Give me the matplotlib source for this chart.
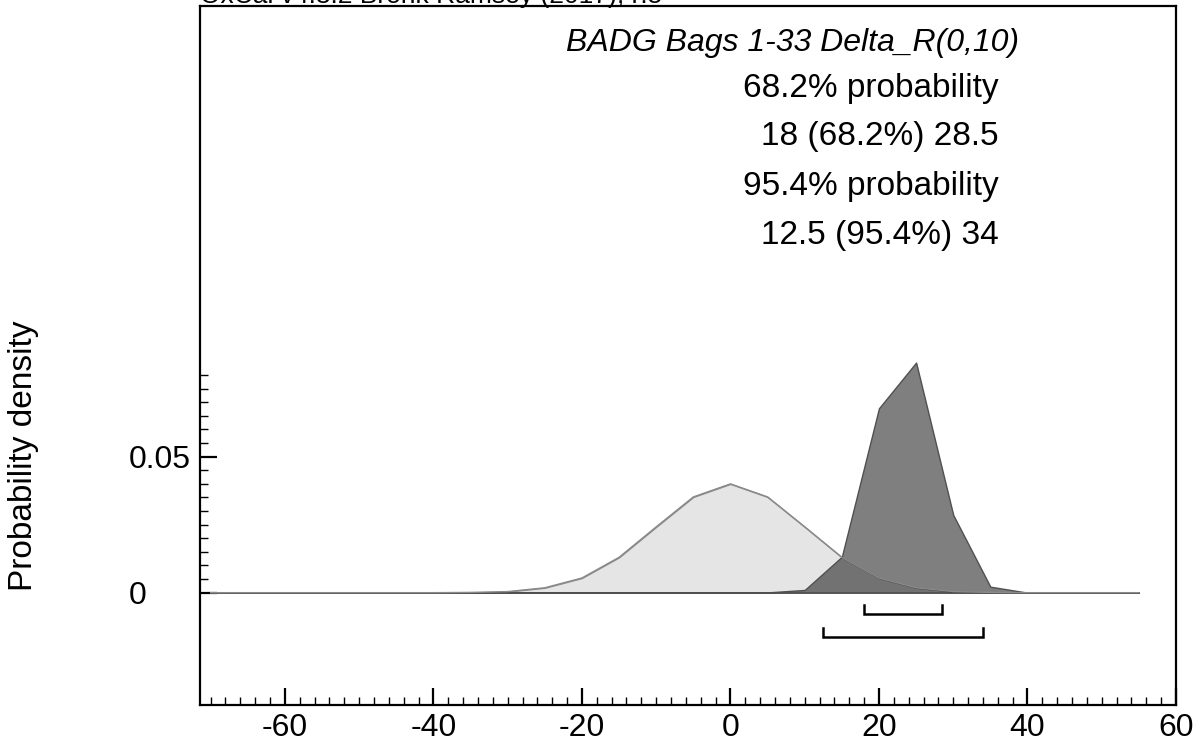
import matplotlib
matplotlib.use("Agg")
import matplotlib.pyplot as plt
from matplotlib.ticker import FixedLocator, MultipleLocator
import numpy as np

plt.rcParams['font.family'] = ['Liberation Sans', 'DejaVu Sans']

# Data
x_vals = [-70, -65, -60, -55, -50, -45, -40, -35, -30, -25, -20, -15, -10, -5, 0,
          5, 10, 15, 20, 25, 30, 35, 40, 45, 50, 55]
prior = [0.0, 0.0, 0.0, 0.0, 0.0, 0.0, 0.0, 0.0001, 0.0004, 0.0018, 0.0054, 0.0130,
         0.0242, 0.0352, 0.0400, 0.0352, 0.0242, 0.0130, 0.0054, 0.0018, 0.0004,
         0.0001, 0.0, 0.0, 0.0, 0.0]
posterior = [0.0, 0.0, 0.0, 0.0, 0.0, 0.0, 0.0, 0.0, 0.0, 0.0, 0.0, 0.0, 0.0, 0.0, 0.0,
             0.0001, 0.0010, 0.0132, 0.0678, 0.0846, 0.0286, 0.0022, 0.0, 0.0, 0.0, 0.0]
range68 = (18, 28.5)
range95 = (12.5, 34)
title = "BADG Bags 1-33 Delta_R(0,10)"
lines = ["68.2% probability", "18 (68.2%) 28.5", "95.4% probability", "12.5 (95.4%) 34"]
header = "OxCal v4.3.2 Bronk Ramsey (2017); r:5"
xticks = [-60, -40, -20, 0, 20, 40, 60]
yticks = [0, 0.05]
yticklabels = ["0", "0.05"]

W, H = 1204, 744
fig = plt.figure(figsize=(W / 100, H / 100), dpi=100)
left, right, top, bottom = 199.5, 1176, 6, 705
ax = fig.add_axes([left / W, 1 - bottom / H, (right - left) / W, (bottom - top) / H])
ax.set_xlim(-71.5, 60.0)
ax.set_ylim(-0.0413, 0.2157)

x = np.array(x_vals)
p = np.array(prior)
q = np.array(posterior)
ax.fill_between(x, 0, p, facecolor='#e5e5e5', edgecolor='#8a8a8a', linewidth=1.0, zorder=2)
ax.fill_between(x, 0, q, facecolor=(0, 0, 0, 0.5), edgecolor='#505050', linewidth=1.0, zorder=3)
ax.plot(x, p, color='#8a8a8a', linewidth=1.0, zorder=4)

# probability range brackets
for (a, b), yl, yt in [(range68, -0.0079, -0.0046), (range95, -0.0162, -0.0129)]:
    ax.plot([a, a, b, b], [yt, yl, yl, yt], color='black', linewidth=1.8,
            solid_joinstyle='miter', zorder=5)

for s in ax.spines.values():
    s.set_linewidth(1.6)

ax.set_xticks(xticks)
ax.set_xticklabels([str(v) for v in xticks])
ax.xaxis.set_minor_locator(MultipleLocator(2))
ax.set_yticks(yticks)
ax.set_yticklabels(yticklabels)
ax.yaxis.set_minor_locator(FixedLocator([i * 0.005 for i in range(0, 17)]))
ax.tick_params(axis='both', which='major', direction='in', length=12, width=1.6,
               labelsize=23)
ax.tick_params(axis='x', which='major', pad=6)
ax.tick_params(axis='y', which='major', pad=(left - 129) * 0.72)
for lab in ax.get_yticklabels():
    lab.set_horizontalalignment('left')
ax.tick_params(axis='both', which='minor', direction='in', length=6, width=1.0)
ax.tick_params(top=False, right=False, which='both')

def fx(px):
    return px / W

def fy(py):
    return 1 - py / H

fig.text(fx(24), fy(456), "Probability density", fontsize=24, rotation=90,
         ha='center', va='center')

fig.text(fx(566), fy(43), title, fontsize=23, style='italic', ha='left', va='center')
ys = [89, 137, 187, 236]
for t, yy in zip(lines, ys):
    fig.text(fx(999), fy(yy), t, fontsize=24, ha='right', va='center')

fig.text(fx(200), fy(3), header, fontsize=19, ha='left', va='baseline')

fig.savefig("out.png", dpi=100)
